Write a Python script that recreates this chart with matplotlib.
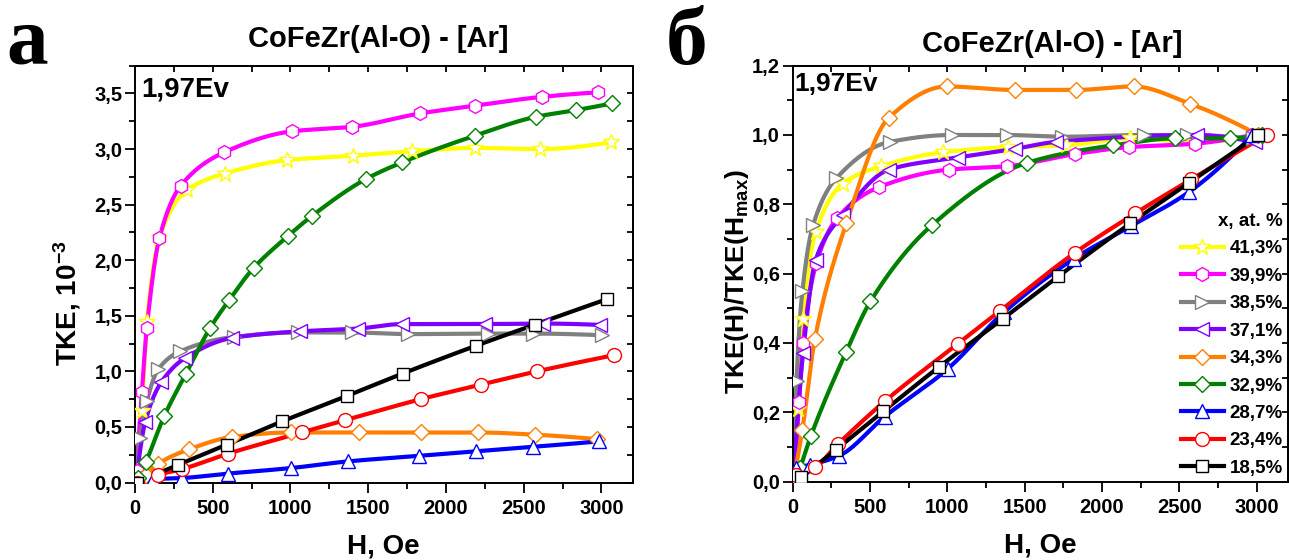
import numpy as np
import matplotlib
matplotlib.use("Agg")
import matplotlib.pyplot as plt
from matplotlib.ticker import MultipleLocator, FuncFormatter
from matplotlib.lines import Line2D

plt.rcParams['font.family'] = ['Liberation Sans', 'DejaVu Sans']
plt.rcParams['font.weight'] = 'bold'
plt.rcParams['mathtext.fontset'] = 'custom'
plt.rcParams['mathtext.rm'] = 'Liberation Sans:bold'
plt.rcParams['mathtext.it'] = 'Liberation Sans:bold'
plt.rcParams['mathtext.bf'] = 'Liberation Sans:bold'

# ---------------- data ----------------
series_labels = ['41,3%', '39,9%', '38,5%', '37,1%', '34,3%', '32,9%', '28,7%', '23,4%', '18,5%']
series_colors = ['#FFFF00', '#FF00FF', '#808080', '#8000FF', '#FF8000', '#008000', '#0000FF', '#FF0000', '#000000']
series_markers = ['*', 'h', '>', '<', 'D', 'D', '^', 'o', 's']
series_msize = [12, 10, 10, 10, 8, 8, 10, 10, 8]

# panel a: H (Oe) vs TKE (10^-3)
a_h_413 = [10, 44, 76, 157, 333, 579, 975, 1404, 1779, 2186, 2608, 3060]
a_t_413 = [0.10, 0.64, 1.44, 2.20, 2.63, 2.78, 2.90, 2.94, 2.98, 3.01, 3.00, 3.06]
a_h_399 = [10, 44, 76, 157, 294, 573, 1012, 1397, 1832, 2186, 2621, 2978]
a_t_399 = [0.10, 0.81, 1.39, 2.20, 2.67, 2.97, 3.16, 3.20, 3.32, 3.39, 3.47, 3.51]
a_h_385 = [10, 33, 76, 150, 290, 637, 1050, 1393, 1757, 2271, 2560, 3006]
a_t_385 = [0.05, 0.40, 0.73, 1.02, 1.18, 1.31, 1.35, 1.35, 1.335, 1.34, 1.34, 1.325]
a_h_371 = [10, 65, 168, 322, 622, 1061, 1436, 1715, 2250, 2625, 2989]
a_t_371 = [0.05, 0.54, 0.90, 1.12, 1.30, 1.36, 1.385, 1.425, 1.425, 1.43, 1.418]
a_h_343 = [10, 69, 150, 350, 626, 1001, 1440, 1839, 2207, 2576, 2972]
a_t_343 = [0.00, 0.07, 0.17, 0.30, 0.41, 0.45, 0.45, 0.45, 0.45, 0.43, 0.39]
a_h_329 = [22, 69, 189, 328, 483, 605, 763, 986, 1140, 1485, 1718, 2186, 2578, 2835, 3068]
a_t_329 = [0.04, 0.18, 0.60, 0.98, 1.39, 1.64, 1.93, 2.22, 2.40, 2.73, 2.88, 3.12, 3.29, 3.35, 3.41]
a_h_287 = [10, 114, 301, 596, 1003, 1371, 1828, 2192, 2560, 2985]
a_t_287 = [0.00, 0.03, 0.04, 0.08, 0.13, 0.19, 0.24, 0.28, 0.32, 0.37]
a_h_234 = [10, 150, 301, 600, 1072, 1350, 1839, 2224, 2586, 3081]
a_t_234 = [0.00, 0.07, 0.12, 0.26, 0.45, 0.56, 0.75, 0.88, 1.00, 1.145]
a_h_185 = [10, 279, 590, 947, 1365, 1721, 2192, 2571, 3036]
a_t_185 = [0.00, 0.16, 0.34, 0.55, 0.78, 0.98, 1.23, 1.42, 1.65]

# panel b: H (Oe) vs TKE(H)/TKE(Hmax)
b_h_413 = [10, 36, 68, 150, 326, 573, 970, 1396, 1765, 2184, 2598, 3043]
b_n_413 = [0.00, 0.21, 0.47, 0.72, 0.86, 0.91, 0.95, 0.965, 0.97, 0.99, 0.98, 1.00]
b_h_399 = [10, 43, 68, 154, 288, 562, 1009, 1389, 1825, 2178, 2600, 2972]
b_n_399 = [0.00, 0.23, 0.40, 0.63, 0.76, 0.85, 0.90, 0.91, 0.945, 0.965, 0.975, 1.00]
b_h_385 = [10, 26, 64, 133, 283, 627, 1031, 1389, 1744, 2270, 2553, 2979]
b_n_385 = [0.00, 0.29, 0.55, 0.74, 0.875, 0.98, 1.00, 1.00, 0.995, 1.00, 1.00, 0.99]
b_h_371 = [8, 68, 150, 326, 623, 1067, 1439, 1700, 2613, 2990]
b_n_371 = [0.02, 0.37, 0.64, 0.77, 0.90, 0.935, 0.96, 0.98, 1.00, 0.98]
b_h_343 = [8, 64, 144, 348, 623, 996, 1437, 1830, 2205, 2571, 3011]
b_n_343 = [0.01, 0.15, 0.41, 0.745, 1.05, 1.14, 1.13, 1.13, 1.14, 1.09, 1.00]
b_h_329 = [51, 118, 348, 504, 902, 1518, 2070, 2474, 2828, 3032]
b_n_329 = [0.04, 0.13, 0.375, 0.52, 0.74, 0.92, 0.97, 0.99, 0.99, 1.00]
b_h_287 = [20, 111, 300, 595, 1003, 1368, 1819, 2191, 2564, 2972]
b_n_287 = [0.04, 0.048, 0.074, 0.187, 0.325, 0.489, 0.643, 0.738, 0.836, 1.00]
b_h_234 = [20, 144, 294, 595, 1067, 1340, 1825, 2216, 2577, 3064]
b_n_234 = [0.02, 0.041, 0.108, 0.231, 0.397, 0.492, 0.66, 0.774, 0.872, 1.00]
b_h_185 = [58, 279, 588, 945, 1361, 1718, 2184, 2564, 3011]
b_n_185 = [0.012, 0.091, 0.203, 0.33, 0.47, 0.592, 0.745, 0.862, 1.00]

panel_a = [(a_h_413, a_t_413), (a_h_399, a_t_399), (a_h_385, a_t_385), (a_h_371, a_t_371),
           (a_h_343, a_t_343), (a_h_329, a_t_329), (a_h_287, a_t_287), (a_h_234, a_t_234),
           (a_h_185, a_t_185)]
panel_b = [(b_h_413, b_n_413), (b_h_399, b_n_399), (b_h_385, b_n_385), (b_h_371, b_n_371),
           (b_h_343, b_n_343), (b_h_329, b_n_329), (b_h_287, b_n_287), (b_h_234, b_n_234),
           (b_h_185, b_n_185)]


def pchip_curve(x, y, num=400):
    """Shape-preserving smooth line through the data points (drawing only)."""
    x = np.asarray(x, float)
    y = np.asarray(y, float)
    n = len(x)
    h = np.diff(x)
    d = np.diff(y) / h
    m = np.zeros(n)
    for k in range(1, n - 1):
        if d[k - 1] * d[k] > 0:
            w1 = 2 * h[k] + h[k - 1]
            w2 = h[k] + 2 * h[k - 1]
            m[k] = (w1 + w2) / (w1 / d[k - 1] + w2 / d[k])
    def endslope(h0, h1, d0, d1):
        s = ((2 * h0 + h1) * d0 - h0 * d1) / (h0 + h1)
        if np.sign(s) != np.sign(d0):
            s = 0.0
        elif np.sign(d0) != np.sign(d1) and abs(s) > abs(3 * d0):
            s = 3 * d0
        return s
    if n > 2:
        m[0] = endslope(h[0], h[1], d[0], d[1])
        m[-1] = endslope(h[-1], h[-2], d[-1], d[-2])
    else:
        m[:] = d[0]
    xs = np.linspace(x[0], x[-1], num)
    idx = np.clip(np.searchsorted(x, xs) - 1, 0, n - 2)
    t = (xs - x[idx]) / h[idx]
    h00 = 2 * t**3 - 3 * t**2 + 1
    h10 = t**3 - 2 * t**2 + t
    h01 = -2 * t**3 + 3 * t**2
    h11 = t**3 - t**2
    ys = h00 * y[idx] + h10 * h[idx] * m[idx] + h01 * y[idx + 1] + h11 * h[idx] * m[idx + 1]
    return xs, ys


comma = FuncFormatter(lambda v, p: ('%.1f' % v).replace('.', ','))
intfmt = FuncFormatter(lambda v, p: '%d' % round(v))

fig = plt.figure(figsize=(12.89, 5.60), dpi=100)
W, H = 1289.0, 560.0
ax_a = fig.add_axes([135 / W, 1 - 482.5 / H, (632.5 - 135) / W, (482.5 - 65.7) / H])
ax_b = fig.add_axes([792.5 / W, 1 - 481.5 / H, (1287.6 - 792.5) / W, (481.5 - 65.7) / H])

LW = 3.0
TICK_FS = 14.5


def draw(ax, data):
    order = list(range(len(data)))[::-1]
    for i in order:
        hx, yv = data[i]
        xs, ys = pchip_curve(hx, yv)
        ax.plot(xs, ys, '-', color=series_colors[i], lw=LW, zorder=2 + i * 0.01,
                solid_capstyle='round')
        ax.plot(hx, yv, linestyle='none', marker=series_markers[i], ms=series_msize[i],
                mfc='white', mec=series_colors[i], mew=1.0, zorder=3 + i * 0.01)


def style(ax, ymax, ymajor, yminor):
    ax.set_xlim(0, 3200)
    ax.set_ylim(0, ymax)
    ax.xaxis.set_major_locator(MultipleLocator(500))
    ax.xaxis.set_minor_locator(MultipleLocator(250))
    ax.yaxis.set_major_locator(MultipleLocator(ymajor))
    ax.yaxis.set_minor_locator(MultipleLocator(yminor))
    ax.xaxis.set_major_formatter(intfmt)
    ax.yaxis.set_major_formatter(comma)
    ax.tick_params(which='major', direction='out', length=7, width=1.3, labelsize=TICK_FS, pad=5)
    ax.tick_params(which='minor', direction='out', length=4, width=1.3)
    ax.tick_params(axis='y', which='major', pad=2)
    for s in ax.spines.values():
        s.set_linewidth(1.4)
    sx = ax.secondary_xaxis('top')
    sx.xaxis.set_major_locator(MultipleLocator(500))
    sx.xaxis.set_minor_locator(MultipleLocator(250))
    sx.tick_params(which='both', direction='in', length=4, width=1.3, labeltop=False)
    sy = ax.secondary_yaxis('right')
    sy.yaxis.set_major_locator(MultipleLocator(ymajor))
    sy.yaxis.set_minor_locator(MultipleLocator(yminor))
    sy.tick_params(which='both', direction='in', length=4, width=1.3, labelright=False)
    for s in list(sx.spines.values()) + list(sy.spines.values()):
        s.set_linewidth(1.4)
    ax.set_xlabel('H, Oe', fontsize=20, fontweight='bold', labelpad=11)


draw(ax_a, panel_a)
draw(ax_b, panel_b)
style(ax_a, 3.75, 0.5, 0.25)
style(ax_b, 1.2, 0.2, 0.1)

ax_a.set_ylabel('TKE, 10$^{-3}$', fontsize=20, fontweight='bold')
ax_a.yaxis.set_label_coords(-0.105, 0.43)
ax_b.set_ylabel('TKE(H)/TKE(H$_{max}$)', fontsize=19, fontweight='bold')
ax_b.yaxis.set_label_coords(-0.083, 0.48)

ax_a.text(0.012, 0.975, '1,97Ev', transform=ax_a.transAxes, fontsize=20, fontweight='bold',
          ha='left', va='top')
ax_b.text(0.004, 0.985, '1,97Ev', transform=ax_b.transAxes, fontsize=19, fontweight='bold',
          ha='left', va='top')

fig.text(378 / W, 1 - 39 / H, 'CoFeZr(Al-O) - [Ar]', fontsize=21, fontweight='bold',
         ha='center', va='center')
fig.text(1052 / W, 1 - 44 / H, 'CoFeZr(Al-O) - [Ar]', fontsize=21, fontweight='bold',
         ha='center', va='center')

fig.text(27 / W, 1 - 64 / H, 'а', fontsize=60, fontweight='bold', family='Liberation Serif',
         ha='center', va='baseline')
fig.text(687 / W, 1 - 64 / H, 'б', fontsize=60, fontweight='bold', family='Liberation Serif',
         ha='center', va='baseline')

handles = [Line2D([], [], color=series_colors[i], lw=LW, marker=series_markers[i],
                  ms=series_msize[i], mfc='white', mec=series_colors[i], mew=1.0)
           for i in range(len(series_labels))]
leg = ax_b.legend(handles, series_labels, title='x, at. %', loc='lower right',
                  bbox_to_anchor=(1.0, 0.0), frameon=False, fontsize=13.5,
                  title_fontproperties={'weight': 'bold', 'size': 13.5},
                  handlelength=2.3, handletextpad=0.3, labelspacing=0.55,
                  borderaxespad=0.1, borderpad=0.15)
leg._legend_box.align = 'right'

fig.savefig('out.png', dpi=100)
